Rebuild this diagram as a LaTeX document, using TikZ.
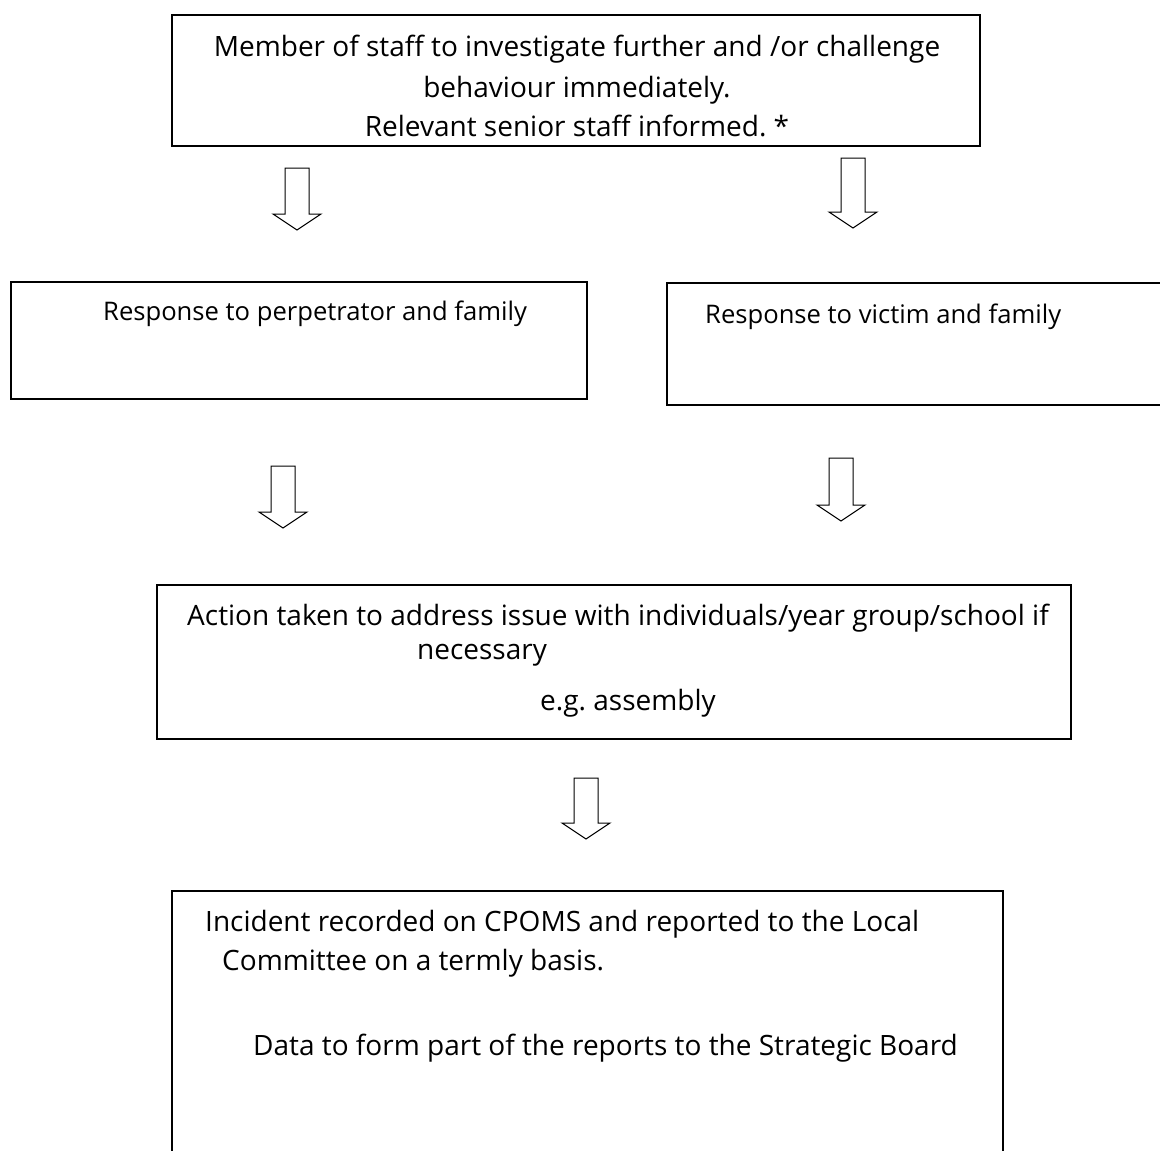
\documentclass[tikz,border=0pt]{standalone}
\usepackage{fontspec}
\setmainfont{Open Sans}[Ligatures=NoCommon]
\usepackage{tikz}
\frenchspacing

\tikzset{
  boxline/.style={line width=1.3pt},
  arrowline/.style={line width=1pt, line join=miter},
  txt/.style={anchor=mid west, inner sep=0pt, font=\fontsize{28}{34}\selectfont},
  ctxt/.style={txt, anchor=mid},
  smalltxt/.style={txt, font=\fontsize{25.6}{31}\selectfont}
}
% hollow down arrow: x centre, top, shaft length
\newcommand{\hollowarrow}[3]{%
  \draw[arrowline] (#1-12,#2) -- ++(24,0) -- ++(0,#3) -- ++(12,0) -- ++(-24,16) -- ++(-24,-16) -- ++(12,0) -- cycle;}

\begin{document}
\begin{tikzpicture}[x=1pt,y=-1pt]
        \useasboundingbox (0,0) rectangle (1160,1151);%
        % boxes
        \draw[boxline] (172,15) rectangle (980,146);%
        \draw[boxline] (11,282) rectangle (587,399);%
        \draw[boxline] (1170,283) -- (667,283) -- (667,405) -- (1170,405);%
        \draw[boxline] (157,585) rectangle (1071,739);%
        \draw[boxline] (172,1170) -- (172,891) -- (1003,891) -- (1003,1170);%
        % texts
        \node[ctxt] (staff1) at (577,54) {Member of staff to investigate further and /or challenge};%
        \node[ctxt] (staff2) at (577,95) {behaviour immediately.};%
        \node[ctxt] (staff3) at (577,134) {Relevant senior staff informed. *};%
        \node[smalltxt] (perp) at (103,318) {Response to perpetrator and family};%
        \node[smalltxt] (victim) at (705,321) {Response to victim and family};%
        \node[txt] (action1) at (187,623) {Action taken to address issue with individuals/year group/school if};%
        \node[txt] (action2) at (417,657) {necessary};%
        \node[txt] (action3) at (540,708) {e.g. assembly};%
        \node[txt] (record1) at (205,929) {Incident recorded on CPOMS and reported to the Local};%
        \node[txt] (record2) at (222,968) {Committee on a termly basis.};%
        \node[txt] (record3) at (253,1053) {Data to form part of the reports to the Strategic Board};%
        % arrows
        \hollowarrow{297}{168}{46}%
        \hollowarrow{853}{158}{54}%
        \hollowarrow{283}{466}{46}%
        \hollowarrow{841}{458}{47}%
        \hollowarrow{586}{778}{45}%
      \end{tikzpicture}
\end{document}
